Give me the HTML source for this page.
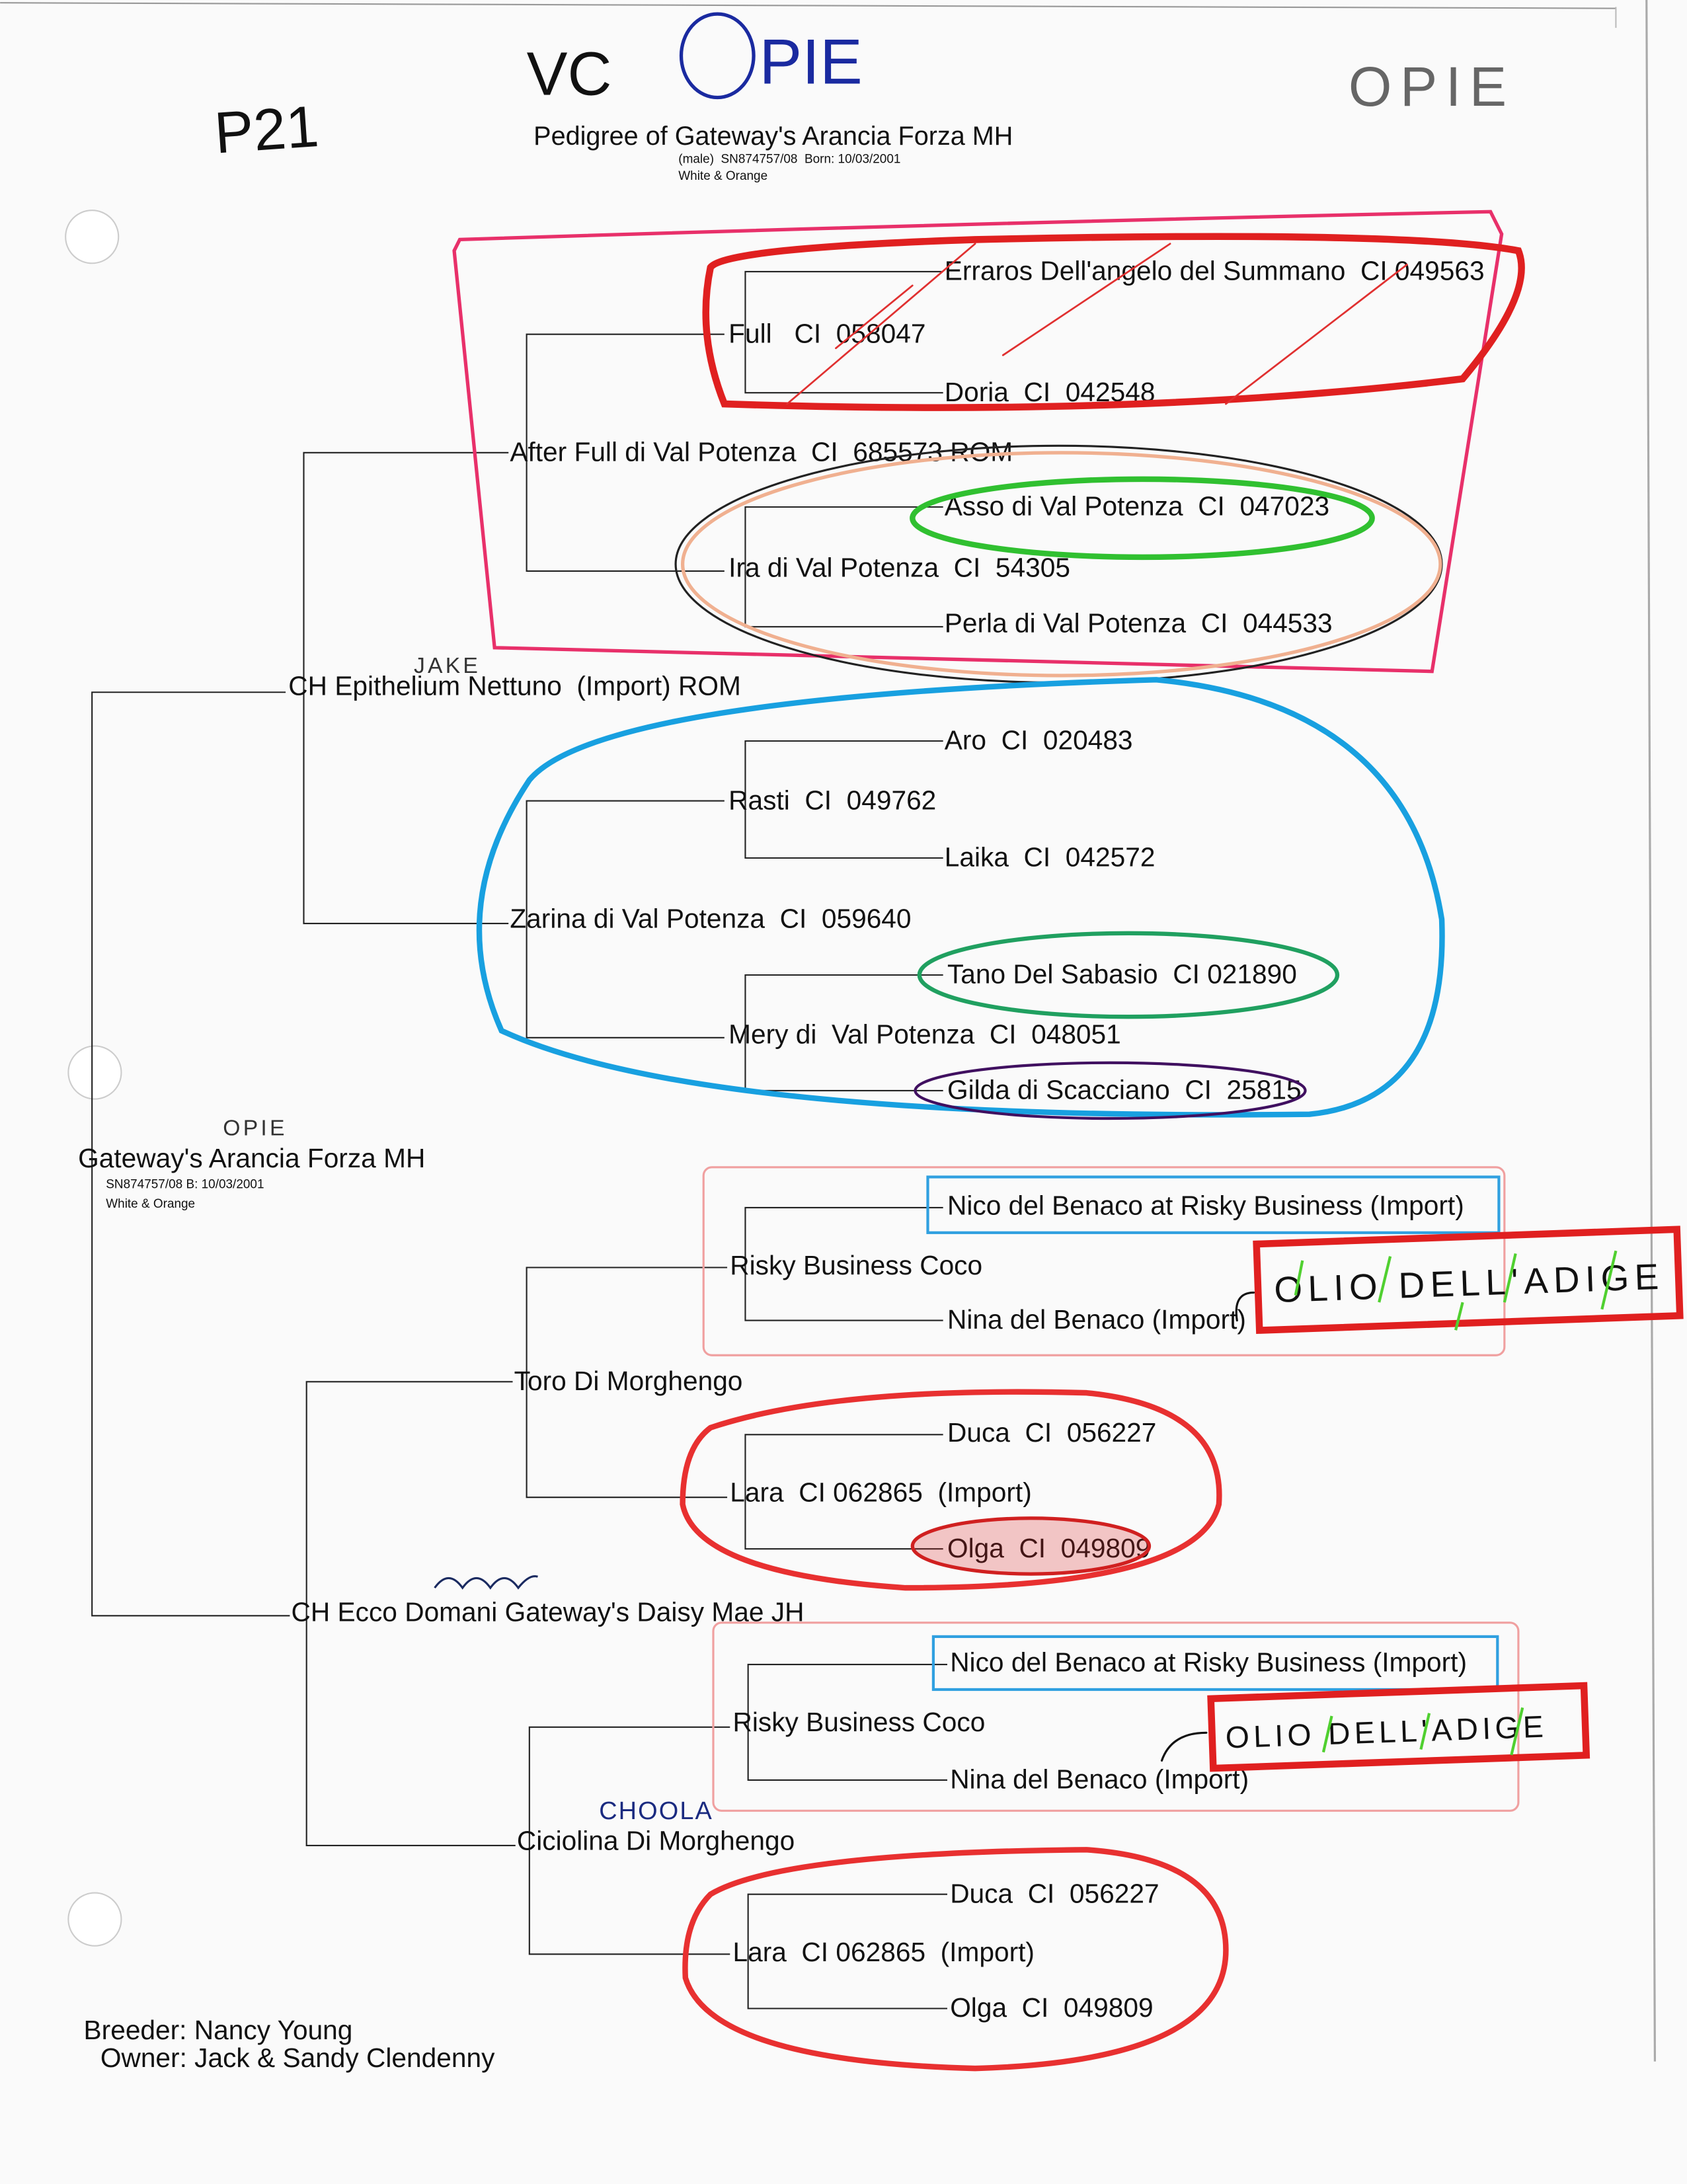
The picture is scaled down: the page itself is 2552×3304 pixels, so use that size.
<!DOCTYPE html>
<html><head><meta charset="utf-8"><style>
html,body{margin:0;padding:0;background:#fafafa;}
svg{display:block;}
.t{font-family:"Liberation Sans",sans-serif;font-size:19.3px;fill:#111;}
.s{font-family:"Liberation Sans",sans-serif;font-size:9px;fill:#111;}
</style></head><body>
<svg width="2552" height="3304" viewBox="0 0 1211 1568" xmlns="http://www.w3.org/2000/svg">
<rect width="1211" height="1568" fill="#fafafa"/>
<line x1="0" y1="2" x2="1160" y2="6" stroke="#999" stroke-width="1"/>
<line x1="1182" y1="0" x2="1188" y2="1480" stroke="#aaa" stroke-width="1.5"/>
<line x1="1160" y1="5" x2="1160" y2="20" stroke="#bbb"/>
<circle cx="66" cy="170" r="19" fill="#fff" stroke="#ccc"/>
<circle cx="68" cy="770" r="19" fill="#fff" stroke="#ccc"/>
<circle cx="68" cy="1378" r="19" fill="#fff" stroke="#ccc"/>

<text class="t" x="383" y="104" style="font-size:18.8px">Pedigree of Gateway's Arancia Forza MH</text>
<text class="s" x="487" y="117" font-size="8">(male)&#160; SN874757/08&#160; Born: 10/03/2001</text>
<text class="s" x="487" y="129" font-size="8">White &amp; Orange</text>

<g stroke="#222" stroke-width="1" fill="none">
<path d="M205 497H66V1160H208"/>
<path d="M365 325H218V663H365"/>
<path d="M520 240H378V410H520"/>
<path d="M677 195H535V282H677"/>
<path d="M677 364H535V450H677"/>
<path d="M520 575H378V745H520"/>
<path d="M677 532H535V616H677"/>
<path d="M677 700H535V783H677"/>
<path d="M368 992H220V1325H370"/>
<path d="M522 910H378V1075H522"/>
<path d="M677 867H535V948H677"/>
<path d="M677 1030H535V1112H677"/>
<path d="M524 1240H380V1403H524"/>
<path d="M680 1195H537V1278H680"/>
<path d="M680 1360H537V1442H680"/>
</g>

<g class="t">
<text x="56" y="838">Gateway's Arancia Forza MH</text>
<text x="207" y="499">CH Epithelium Nettuno &#160;(Import) ROM</text>
<text x="366" y="331">After Full di Val Potenza &#160;CI &#160;685573 ROM</text>
<text x="523" y="246">Full &#160; CI &#160;058047</text>
<text x="678" y="201">Erraros Dell'angelo del Summano &#160;CI 049563</text>
<text x="678" y="288">Doria &#160;CI &#160;042548</text>
<text x="523" y="414">Ira di Val Potenza &#160;CI &#160;54305</text>
<text x="678" y="370">Asso di Val Potenza &#160;CI &#160;047023</text>
<text x="678" y="454">Perla di Val Potenza &#160;CI &#160;044533</text>
<text x="366" y="666">Zarina di Val Potenza &#160;CI &#160;059640</text>
<text x="523" y="581">Rasti &#160;CI &#160;049762</text>
<text x="678" y="538">Aro &#160;CI &#160;020483</text>
<text x="678" y="622">Laika &#160;CI &#160;042572</text>
<text x="523" y="749">Mery di &#160;Val Potenza &#160;CI &#160;048051</text>
<text x="680" y="706">Tano Del Sabasio &#160;CI 021890</text>
<text x="680" y="789">Gilda di Scacciano &#160;CI &#160;25815</text>
<text x="209" y="1164">CH Ecco Domani Gateway's Daisy Mae JH</text>
<text x="369" y="998">Toro Di Morghengo</text>
<text x="524" y="915">Risky Business Coco</text>
<text x="680" y="872">Nico del Benaco at Risky Business (Import)</text>
<text x="680" y="954">Nina del Benaco (Import)</text>
<text x="524" y="1078">Lara &#160;CI 062865 &#160;(Import)</text>
<text x="680" y="1035">Duca &#160;CI &#160;056227</text>
<text x="680" y="1118">Olga &#160;CI &#160;049809</text>
<text x="371" y="1328">Ciciolina Di Morghengo</text>
<text x="526" y="1243">Risky Business Coco</text>
<text x="682" y="1200">Nico del Benaco at Risky Business (Import)</text>
<text x="682" y="1284">Nina del Benaco (Import)</text>
<text x="526" y="1408">Lara &#160;CI 062865 &#160;(Import)</text>
<text x="682" y="1366">Duca &#160;CI &#160;056227</text>
<text x="682" y="1448">Olga &#160;CI &#160;049809</text>
<text x="60" y="1464">Breeder: Nancy Young</text>
<text x="72" y="1484">Owner: Jack &amp; Sandy Clendenny</text>
</g>
<text class="s" x="76" y="853">SN874757/08 B: 10/03/2001</text>
<text class="s" x="76" y="867">White &amp; Orange</text>

<text x="155" y="110" font-family="Liberation Sans,sans-serif" font-size="42" fill="#111" transform="rotate(-4 155 110)">P21</text>
<text x="378" y="68" font-family="Liberation Sans,sans-serif" font-size="44" fill="#111">VC</text>
<ellipse cx="515" cy="40" rx="26" ry="30" fill="none" stroke="#1a2aa0" stroke-width="2.5"/>
<text x="545" y="60" font-family="Liberation Sans,sans-serif" font-size="46" fill="#1a2aa0">PIE</text>
<text x="968" y="76" font-family="Liberation Sans,sans-serif" font-size="40" fill="#666" letter-spacing="6">OPIE</text>
<text x="297" y="483" font-family="Liberation Sans,sans-serif" font-size="16" fill="#333" letter-spacing="2">JAKE</text>
<text x="160" y="815" font-family="Liberation Sans,sans-serif" font-size="16" fill="#333" letter-spacing="2">OPIE</text>
<text x="430" y="1306" font-family="Liberation Sans,sans-serif" font-size="18" fill="#1a2a80" letter-spacing="1">CHOOLA</text>
<path d="M312 1140 q10 -14 20 0 q10 -14 20 0 q10 -14 20 0 q8 -10 14 -8" fill="none" stroke="#1a2a60" stroke-width="1.5"/>

<g fill="none" stroke-linecap="round">
<path d="M330 172 Q700 160 1070 152 L1078 168 L1028 482 L355 465 L326 180 Z" stroke="#e8306a" stroke-width="2.5"/>
<path d="M510 192 Q520 178 700 172 Q1010 165 1090 180 Q1102 210 1050 272 Q820 300 520 290 Q500 240 510 192 Z" stroke="#e02020" stroke-width="5"/>
<g stroke="#e03030" stroke-width="1.3"><line x1="565" y1="290" x2="700" y2="175"/><line x1="600" y1="250" x2="655" y2="205"/><line x1="720" y1="255" x2="840" y2="175"/><line x1="880" y1="290" x2="1010" y2="190"/></g>
<ellipse cx="760" cy="405" rx="275" ry="85" stroke="#222" stroke-width="1.5"/>
<ellipse cx="762" cy="405" rx="272" ry="80" stroke="#f0b090" stroke-width="2.5"/>
<ellipse cx="820" cy="372" rx="165" ry="28" stroke="#30c030" stroke-width="4"/>
<path d="M380 560 Q430 500 830 488 Q1010 505 1035 660 Q1040 790 940 800 Q500 805 360 740 Q320 650 380 560 Z" stroke="#18a0e0" stroke-width="4"/>
<ellipse cx="810" cy="700" rx="150" ry="30" stroke="#20a060" stroke-width="3"/>
<ellipse cx="797" cy="783" rx="140" ry="20" stroke="#401060" stroke-width="2"/>
<rect x="505" y="838" width="575" height="135" rx="6" stroke="#f0a0a0" stroke-width="1.5"/>
<rect x="666" y="845" width="410" height="40" stroke="#30a0e0" stroke-width="2"/>
<rect x="903" y="888" width="302" height="62" stroke="#e02020" stroke-width="5" transform="rotate(-2 1050 920)"/>
<path d="M900 928 q-15 0 -12 20" stroke="#111" stroke-width="1.5"/>
<path d="M510 1025 Q600 995 780 1000 Q880 1010 875 1080 Q860 1140 650 1140 Q500 1130 490 1080 Q490 1040 510 1025 Z" stroke="#e83030" stroke-width="4"/>
<ellipse cx="740" cy="1110" rx="85" ry="20" stroke="#d02020" stroke-width="2.5" fill="rgba(220,40,40,0.25)"/>
<rect x="512" y="1165" width="578" height="135" rx="6" stroke="#f0a0a0" stroke-width="1.5"/>
<rect x="670" y="1175" width="405" height="38" stroke="#30a0e0" stroke-width="2"/>
<rect x="870" y="1215" width="268" height="50" stroke="#e02020" stroke-width="5" transform="rotate(-2 1000 1240)"/>
<path d="M866 1244 q-25 0 -32 20" stroke="#111" stroke-width="1.5"/>
<path d="M510 1360 Q560 1330 780 1328 Q880 1335 880 1400 Q880 1480 700 1485 Q510 1480 492 1420 Q490 1380 510 1360 Z" stroke="#e83030" stroke-width="4"/>
</g>
<text x="915" y="935" font-family="Liberation Sans,sans-serif" font-size="26" fill="#111" letter-spacing="4" transform="rotate(-2 915 935)">OLIO DELL'ADIGE</text>
<g stroke="#50d030" stroke-width="2"><line x1="930" y1="930" x2="935" y2="905"/><line x1="990" y1="935" x2="998" y2="902"/><line x1="1080" y1="935" x2="1088" y2="900"/><line x1="1150" y1="940" x2="1160" y2="898"/><line x1="1045" y1="955" x2="1050" y2="935"/></g>
<text x="880" y="1255" font-family="Liberation Sans,sans-serif" font-size="22" fill="#111" letter-spacing="3" transform="rotate(-2 880 1255)">OLIO DELL'ADIGE</text>
<g stroke="#50d030" stroke-width="2"><line x1="950" y1="1258" x2="956" y2="1232"/><line x1="1020" y1="1256" x2="1026" y2="1230"/><line x1="1085" y1="1260" x2="1093" y2="1226"/></g>
</svg>
</body></html>
